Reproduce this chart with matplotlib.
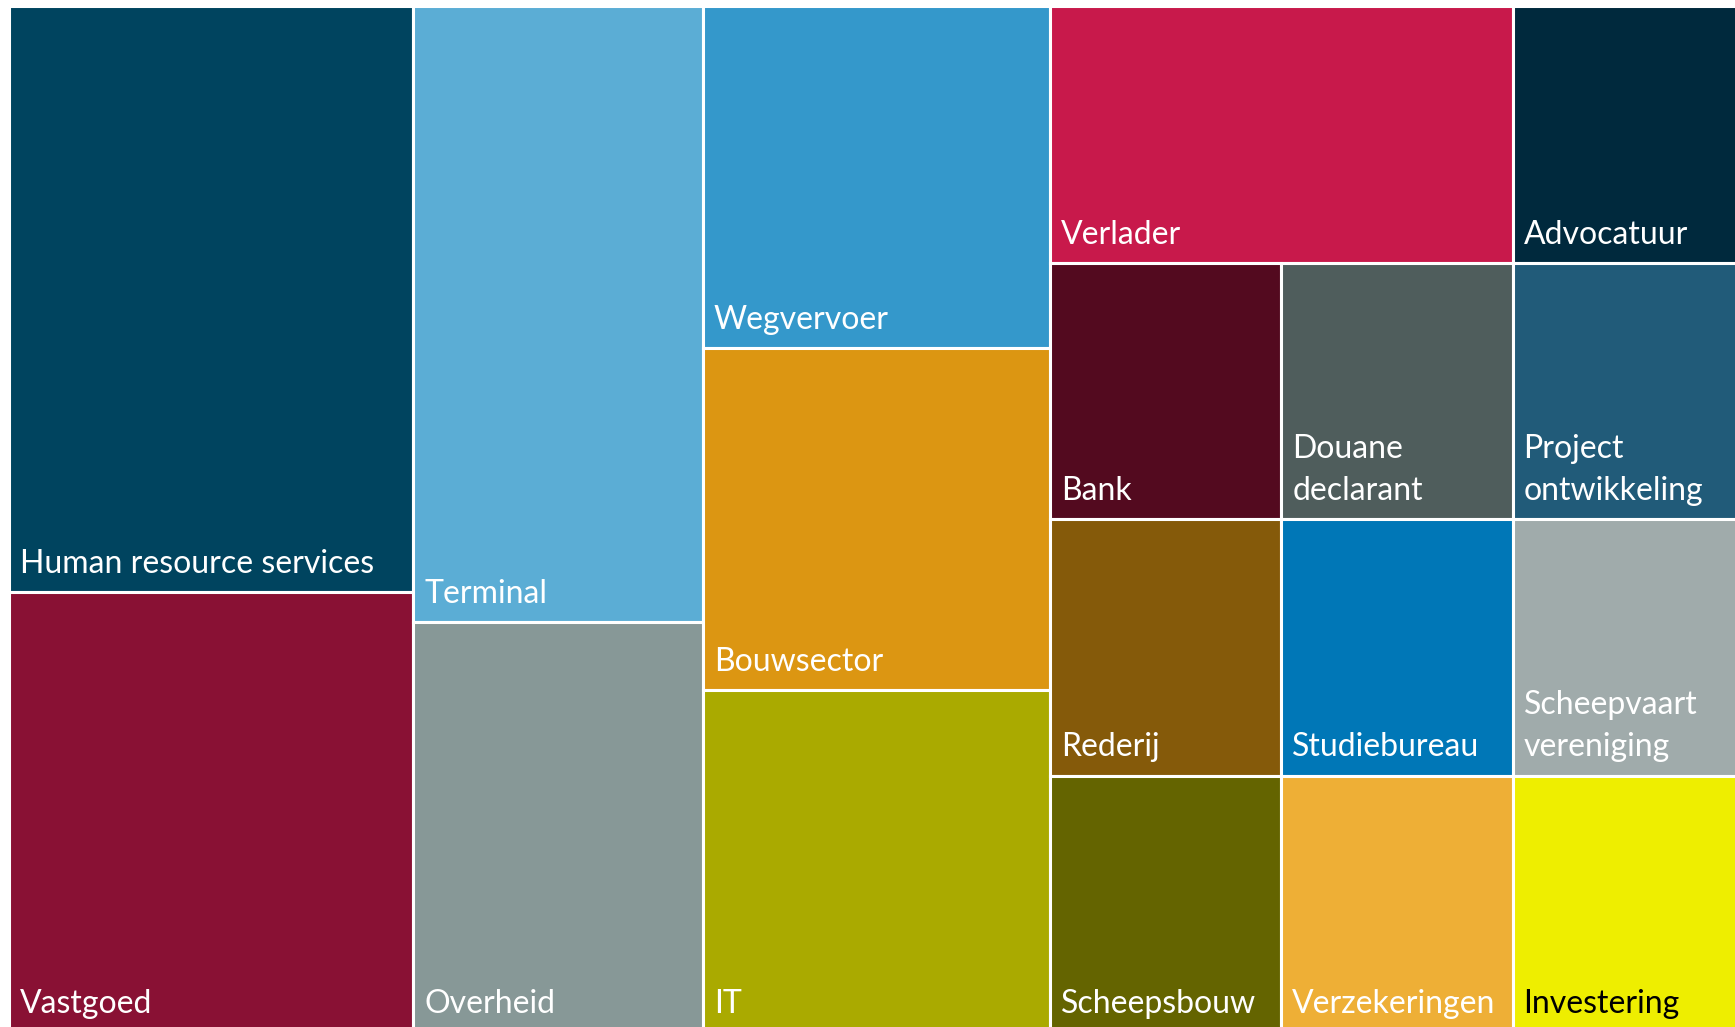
import matplotlib
matplotlib.use("Agg")
import matplotlib.pyplot as plt
from matplotlib.patches import Rectangle

# treemap data: every sector gets a size, drawn in the column/row order below
labels = ["Human resource services", "Vastgoed", "Terminal", "Overheid",
          "Wegvervoer", "Bouwsector", "IT", "Verlader", "Advocatuur",
          "Bank", "Douane\ndeclarant", "Project\nontwikkeling",
          "Rederij", "Studiebureau", "Scheepvaart\nvereniging",
          "Scheepsbouw", "Verzekeringen", "Investering"]
values = [4, 3, 3, 2, 2, 2, 2, 2, 1, 1, 1, 1, 1, 1, 1, 1, 1, 1]
colors = ["#00445f", "#891134", "#5badd5", "#879897",
          "#3498cb", "#dc9612", "#aaaa00", "#c8194b", "#00293d",
          "#530a1f", "#4f5d5c", "#215b79",
          "#855a0a", "#0077b7", "#a0abab",
          "#646400", "#eeaf36", "#eeee00"]
text_colors = ["white"] * 17 + ["black"]

# layout: columns -> rows -> item indices (Excel style slice layout)
columns = [
    [[0], [1]],
    [[2], [3]],
    [[4], [5], [6]],
    [[7, 8], [9, 10, 11], [12, 13, 14], [15, 16, 17]],
]

W, H = 1735, 1027
fig = plt.figure(figsize=(W / 100, H / 100), dpi=100)
ax = fig.add_axes([0, 0, 1, 1])
ax.set_xlim(0, W)
ax.set_ylim(H, 0)
ax.axis("off")

# plotting box (slightly larger than the canvas on the right/bottom, like the source crop)
x0, y0, x1, y1 = 8.5, 6.0, 1744.0, 1032.0
total = float(sum(values))

x = x0
for col in columns:
    col_sum = sum(values[i] for row in col for i in row)
    cw = (x1 - x0) * col_sum / total
    y = y0
    for row in col:
        row_sum = sum(values[i] for i in row)
        rh = (y1 - y0) * row_sum / col_sum
        xx = x
        for i in row:
            w = cw * values[i] / row_sum
            ax.add_patch(Rectangle((xx, y), w, rh, facecolor=colors[i],
                                   edgecolor="white", linewidth=2.2))
            ax.text(xx + 11, y + rh - 19, labels[i], color=text_colors[i],
                    fontsize=23, family=["Lato", "DejaVu Sans"],
                    ha="left", va="baseline", linespacing=1.5)
            xx += w
        y += rh
    x += cw

fig.savefig("out.png", dpi=100)
